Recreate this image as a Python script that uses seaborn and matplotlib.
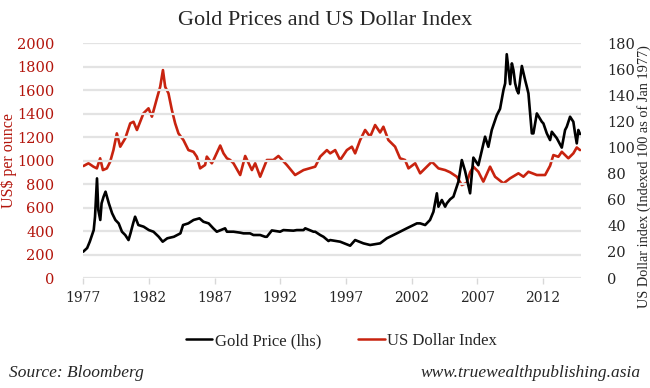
import numpy as np
import pandas as pd
import matplotlib
matplotlib.use("Agg")
import matplotlib.pyplot as plt
import seaborn as sns

# ==========================================
# DATA
# ==========================================

gold_years = [
    1977.0, 1977.3, 1977.5, 1977.8, 1977.9, 1978.05, 1978.15, 1978.3, 1978.4,
    1978.55, 1978.7, 1978.95, 1979.2, 1979.45, 1979.7, 1979.95, 1980.2, 1980.45,
    1980.6, 1980.8, 1980.95, 1981.2, 1981.6, 1982.0, 1982.35, 1982.75, 1983.05,
    1983.4, 1983.9, 1984.4, 1984.6, 1985.0, 1985.4, 1985.85, 1986.15, 1986.55,
    1986.9, 1987.17, 1987.8, 1987.94, 1988.44, 1988.95, 1989.2, 1989.7, 1989.96,
    1990.47, 1990.85, 1990.98, 1991.36, 1991.99, 1992.24, 1993.0, 1993.26,
    1993.77, 1993.9, 1994.53, 1994.66, 1995.04, 1995.29, 1995.67, 1995.8,
    1996.56, 1997.32, 1997.7, 1998.33, 1998.84, 1999.6, 2000.11, 2000.87,
    2001.63, 2002.4, 2002.65, 2003.03, 2003.4, 2003.66, 2003.92, 2004.04,
    2004.3, 2004.55, 2004.68, 2004.93, 2005.18, 2005.56, 2005.82, 2006.07,
    2006.45, 2006.7, 2007.08, 2007.59, 2007.84, 2008.1, 2008.48, 2008.73,
    2008.99, 2009.12, 2009.24, 2009.5, 2009.63, 2009.75, 2009.88, 2010.01,
    2010.13, 2010.39, 2010.64, 2010.77, 2010.89, 2011.02, 2011.15, 2011.27,
    2011.53, 2011.91, 2012.03, 2012.29, 2012.54, 2012.67, 2013.05, 2013.43,
    2013.68, 2013.81, 2014.06, 2014.31, 2014.44, 2014.57, 2014.69, 2014.82,
]
gold_price = [
    224, 255, 309, 408, 522, 848, 579, 494, 636,
    692, 735, 636, 551, 494, 465, 394, 366, 323,
    380, 465, 522, 451, 437, 408, 394, 351, 309,
    338, 351, 380, 451, 465, 494, 508, 479, 465,
    423, 394, 423, 394, 394, 386, 380, 380, 366,
    366, 351, 351, 405, 394, 408, 403, 408,
    408, 423, 394, 394, 366, 351, 315, 323,
    309, 275, 323, 295, 281, 295, 338, 380,
    423, 465, 465, 451, 494, 564, 721, 607,
    664, 607, 636, 670, 692, 820, 1004, 910,
    721, 1025, 960, 1203, 1117, 1260, 1385, 1440,
    1600, 1657, 1905, 1650, 1827, 1770, 1657, 1600,
    1572, 1805, 1685, 1628, 1572, 1401, 1231, 1231,
    1401, 1330, 1316, 1231, 1174, 1245, 1190, 1110,
    1260, 1288, 1373, 1330, 1231, 1146, 1260, 1225,
]

usd_years = [
    1977.02, 1977.4, 1977.78, 1978.04, 1978.29, 1978.5, 1978.8, 1979.05, 1979.3,
    1979.56, 1979.82, 1980.2, 1980.58, 1980.83, 1981.09, 1981.59, 1981.97,
    1982.23, 1982.61, 1982.86, 1983.07, 1983.24, 1983.49, 1983.75, 1984.0,
    1984.25, 1984.63, 1985.01, 1985.39, 1985.65, 1985.9, 1986.28, 1986.41,
    1986.79, 1986.92, 1987.43, 1987.68, 1987.94, 1988.19, 1988.44, 1988.95,
    1989.33, 1989.84, 1990.09, 1990.47, 1990.98, 1991.48, 1991.86, 1992.5,
    1993.13, 1993.77, 1994.66, 1995.04, 1995.55, 1995.8, 1996.18, 1996.56,
    1997.07, 1997.45, 1997.7, 1998.08, 1998.46, 1998.84, 1999.22, 1999.6,
    1999.85, 2000.23, 2000.74, 2001.12, 2001.5, 2001.76, 2002.27, 2002.65,
    2003.16, 2003.54, 2004.04, 2004.55, 2004.93, 2005.44, 2005.82, 2006.2,
    2006.45, 2006.7, 2007.08, 2007.46, 2007.97, 2008.35, 2008.99, 2009.5,
    2010.13, 2010.51, 2010.89, 2011.53, 2012.16, 2012.54, 2012.79, 2013.17,
    2013.43, 2013.93, 2014.31, 2014.57, 2014.82,
]
usd_index = [
    85.8, 87.9, 85.3, 84.0, 91.7, 82.7, 84.0, 89.0, 98.0,
    110.8, 100.6, 107.0, 118.5, 119.7, 113.4, 126.2, 130.0,
    123.6, 137.6, 146.5, 159.3, 146.5, 141.5, 128.7, 118.5,
    110.8, 105.7, 98.0, 96.7, 92.9, 84.0, 86.6, 93.0,
    87.9, 90.4, 101.5, 95.5, 91.7, 90.4, 87.9, 78.9,
    93.5, 82.7, 87.9, 77.6, 90.4, 90.4, 93.5, 86.6,
    78.9, 82.7, 85.3, 93.0, 98.0, 95.5, 98.0, 90.4,
    98.0, 100.6, 95.5, 105.7, 113.4, 108.2, 117.2, 111.5,
    115.9, 105.7, 100.6, 91.7, 90.4, 84.0, 87.9, 80.2,
    85.3, 89.1, 84.0, 82.7, 81.0, 77.6, 71.2, 73.0,
    81.0, 85.3, 81.4, 73.8, 85.3, 77.6, 72.5, 76.4,
    80.2, 77.6, 81.4, 78.9, 78.9, 86.0, 94.2, 92.9,
    96.7, 91.7, 95.5, 100.0, 98.0,
]

year_ticks = [1977, 1982, 1987, 1992, 1997, 2002, 2007, 2012]
gold_ticks = list(range(0, 2001, 200))
usd_ticks = list(range(0, 181, 20))

gold_df = pd.DataFrame({"Year": gold_years, "Price": gold_price})
usd_df = pd.DataFrame({"Year": usd_years, "Index": usd_index})

# ==========================================
# STYLE
# ==========================================

sns.set_theme(style="white")
plt.rcParams["font.family"] = ["Liberation Serif", "DejaVu Serif"]

RED = "#c8230f"
TICK_RED = "#b3150c"
NUM_FONT = ["DejaVu Serif"]

# ==========================================
# PLOT
# ==========================================

fig = plt.figure(figsize=(6.5, 3.88), dpi=100)
ax = fig.add_axes([0.128, 0.2835, 0.766, 0.6055])
ax2 = ax.twinx()

ax.set_xlim(1977, 2014.9)
ax.set_ylim(0, 2000)
ax2.set_ylim(0, 180)

for v in gold_ticks:
    ax.axhline(v, color="#e3e3e3", lw=1.6, zorder=0)

sns.lineplot(data=usd_df, x="Year", y="Index", ax=ax2, color=RED,
             lw=1.9, sort=False, zorder=3)
sns.lineplot(data=gold_df, x="Year", y="Price", ax=ax, color="black",
             lw=1.9, sort=False, zorder=3)

# gold line above the dollar line
ax.set_zorder(ax2.get_zorder() + 1)
ax.patch.set_visible(False)

for a in (ax, ax2):
    for s in a.spines.values():
        s.set_visible(False)

ax.set_xticks(year_ticks)
ax.set_xticklabels([str(y) for y in year_ticks], fontsize=10,
                   family=NUM_FONT)
ax.tick_params(axis="x", bottom=True, length=4, width=1, color="#d8d8d8",
               pad=5)

ax.set_yticks(gold_ticks)
ax.set_yticklabels([str(v) for v in gold_ticks], fontsize=10.5,
                   color=TICK_RED, family=NUM_FONT)
ax.tick_params(axis="y", left=False, pad=15)

ax2.set_yticks(usd_ticks)
ax2.set_yticklabels([str(v) for v in usd_ticks], fontsize=10.5,
                    family=NUM_FONT)
ax2.tick_params(axis="y", right=False, pad=13)

ax.set_xlabel("")
ax.set_ylabel("US$ per ounce", color=TICK_RED, fontsize=11.5)
ax.yaxis.set_label_coords(-0.133, 0.5)
ax2.set_ylabel("US Dollar index (Indexed 100 as of Jan 1977)", fontsize=10.3)
ax2.yaxis.set_label_coords(1.112, 0.43)

fig.text(0.5, 0.948, "Gold Prices and US Dollar Index", ha="center",
         va="center", fontsize=16)

handles = [plt.Line2D([], [], color="black", lw=1.8),
           plt.Line2D([], [], color=RED, lw=1.8)]
fig.legend(handles, ["Gold Price (lhs)", "US Dollar Index"],
           loc="center", bbox_to_anchor=(0.525, 0.121), ncol=2, frameon=False,
           fontsize=12, handlelength=1.6, handletextpad=0.15,
           columnspacing=2.2)

fig.text(0.014, 0.038, "Source: Bloomberg", ha="left", va="center",
         fontsize=12.5, style="italic")
fig.text(0.986, 0.038, "www.truewealthpublishing.asia", ha="right",
         va="center", fontsize=12.5, style="italic")

fig.savefig("out.png", dpi=100)
